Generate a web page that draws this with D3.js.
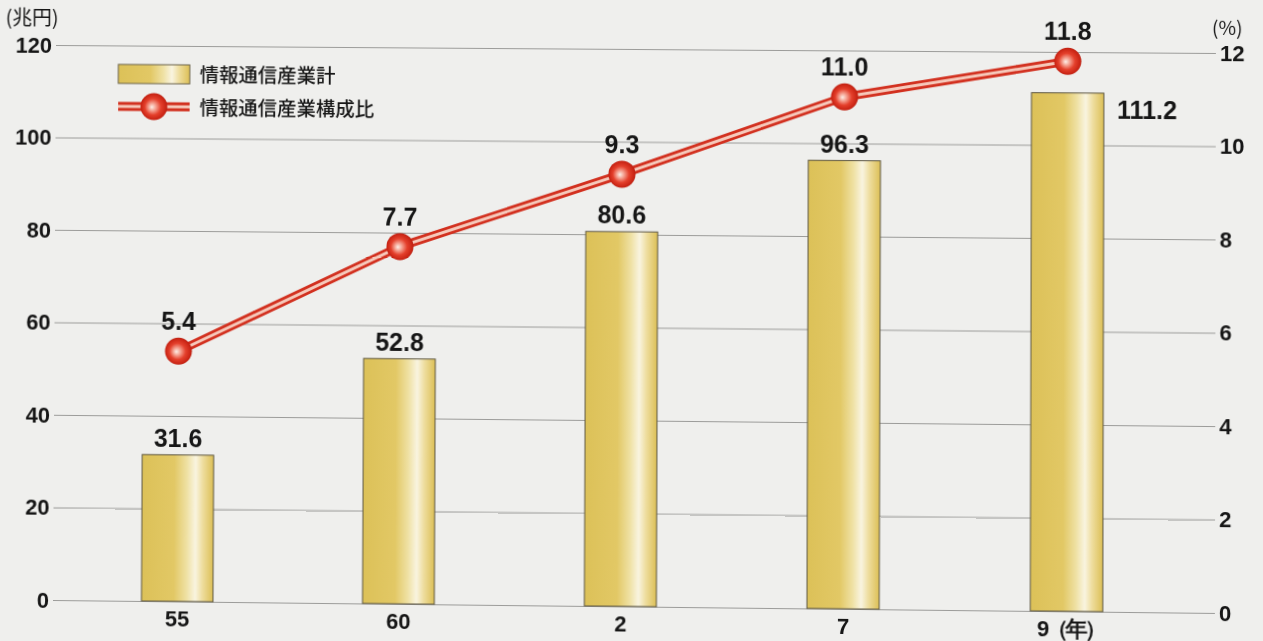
<!DOCTYPE html>
<html lang="ja">
<head>
<meta charset="utf-8">
<script src="https://cdn.jsdelivr.net/npm/d3@7/dist/d3.min.js"></script>
<style>
  html, body { margin: 0; padding: 0; background: #efefed; overflow: hidden; }
  svg { display: block; transform-origin: 0 0; }
  text { font-family: "Liberation Sans", Arial, sans-serif; fill: #161616; }
  .jp { font-family: "Noto Sans CJK JP", "Noto Sans", sans-serif; }
</style>
</head>
<body>
<svg id="chart" width="1263" height="641"></svg>
<script>
// ---- data -------------------------------------------------------------
const categories = ["55", "60", "2", "7", "9（年）"];
const industryTotal = [31.6, 52.8, 80.6, 96.3, 111.2];   // 兆円
const industryShare = [5.4, 7.7, 9.3, 11.0, 11.8];      // %
const leftTicks = [0, 20, 40, 60, 80, 100, 120];
const rightTicks = [0, 2, 4, 6, 8, 10, 12];
const legendLabels = ["情報通信産業計", "情報通信産業構成比"];
const unitLeft = "(兆円)";
const unitRight = "(%)";

// ---- layout -----------------------------------------------------------
const W = 1263, H = 641;
const plot = { left: 55, right: 1215, top: 45, bottom: 600 };

const svg = d3.select("#chart");

// slight keystone of the printed page: map the plot corners onto their
// photographed positions with a projective transform
function homography(src, dst) {
  const A = [], b = [];
  for (let i = 0; i < 4; i++) {
    const [x, y] = src[i], [u, v] = dst[i];
    A.push([x, y, 1, 0, 0, 0, -x * u, -y * u]); b.push(u);
    A.push([0, 0, 0, x, y, 1, -x * v, -y * v]); b.push(v);
  }
  const n = 8;
  for (let c = 0; c < n; c++) {
    let p = c;
    for (let r = c + 1; r < n; r++) if (Math.abs(A[r][c]) > Math.abs(A[p][c])) p = r;
    [A[c], A[p]] = [A[p], A[c]]; [b[c], b[p]] = [b[p], b[c]];
    for (let r = 0; r < n; r++) {
      if (r === c) continue;
      const f = A[r][c] / A[c][c];
      for (let k = c; k < n; k++) A[r][k] -= f * A[c][k];
      b[r] -= f * b[c];
    }
  }
  const h = b.map((v, i) => v / A[i][i]);
  return `matrix3d(${h[0]},${h[3]},0,${h[6]},${h[1]},${h[4]},0,${h[7]},0,0,1,0,${h[2]},${h[5]},0,1)`;
}
svg.style("transform", homography(
  [[plot.left, plot.top], [plot.right, plot.top], [plot.left, plot.bottom], [plot.right, plot.bottom]],
  [[56, 45], [1216, 53], [53, 600], [1215, 613]]
));

svg.append("rect").attr("x", -20).attr("y", -20).attr("width", W + 40).attr("height", H + 40)
  .attr("fill", "#efefed");

// ---- scales -----------------------------------------------------------
const x = d3.scaleBand().domain(categories).range([69, 1179])
  .paddingInner(0.676).paddingOuter(0.338);
const yL = d3.scaleLinear().domain([0, 120]).range([plot.bottom, plot.top]);
const yR = d3.scaleLinear().domain([0, 12]).range([plot.bottom, plot.top]);

// ---- gradients --------------------------------------------------------
const defs = svg.append("defs");
const barGrad = defs.append("linearGradient").attr("id", "barGrad")
  .attr("x1", "0%").attr("x2", "100%").attr("y1", "0%").attr("y2", "0%");
[[0, "#dcc158"], [0.45, "#e2c865"], [0.63, "#efe1a4"], [0.75, "#f9f4e0"], [0.85, "#eedd9e"], [1, "#dcbf55"]]
  .forEach(([o, c]) => barGrad.append("stop").attr("offset", o).attr("stop-color", c));

const dotGrad = defs.append("radialGradient").attr("id", "dotGrad")
  .attr("cx", "50%").attr("cy", "50%").attr("r", "55%").attr("fx", "42%").attr("fy", "52%");
[[0, "#fdeee6"], [0.25, "#f4a090"], [0.55, "#e4402c"], [0.85, "#c92414"], [1, "#a8180c"]]
  .forEach(([o, c]) => dotGrad.append("stop").attr("offset", o).attr("stop-color", c));

// ---- grid + axes ------------------------------------------------------
const tickFont = "Liberation Sans, Arial, sans-serif";
const gLeft = svg.append("g").attr("transform", `translate(${plot.left},0)`)
  .call(d3.axisLeft(yL).tickValues(leftTicks).tickSize(-(plot.right - plot.left)).tickPadding(4));
gLeft.select(".domain").remove();
gLeft.selectAll(".tick line").attr("stroke", "#9c9c9a").attr("stroke-width", 1);
gLeft.selectAll(".tick text").attr("font-size", 22).attr("font-weight", "bold")
  .attr("fill", "#161616").attr("font-family", tickFont);

const gRight = svg.append("g").attr("transform", `translate(${plot.right},0)`)
  .call(d3.axisRight(yR).tickValues(rightTicks).tickSize(0).tickPadding(4));
gRight.select(".domain").remove();
gRight.selectAll(".tick text").attr("font-size", 22).attr("font-weight", "bold")
  .attr("fill", "#161616").attr("font-family", tickFont);

const gBottom = svg.append("g").attr("transform", `translate(0,${plot.bottom})`)
  .call(d3.axisBottom(x).tickSize(0).tickPadding(9));
gBottom.select(".domain").remove();
gBottom.selectAll(".tick text").attr("font-size", 22).attr("font-weight", "bold")
  .attr("fill", "#161616").attr("font-family", "Liberation Sans, 'Noto Sans CJK JP', sans-serif");
// tighten the full-width brackets of the year unit
gBottom.selectAll(".tick text").filter(d => d.includes("（"))
  .attr("letter-spacing", -3).attr("dx", 4);

svg.append("text").attr("class", "jp").attr("x", 4).attr("y", 25)
  .attr("font-size", 20).text(unitLeft);
svg.append("text").attr("class", "jp").attr("x", 1211).attr("y", 27)
  .attr("font-size", 19).text(unitRight);

// ---- bars -------------------------------------------------------------
svg.append("g").selectAll("rect").data(industryTotal).join("rect")
  .attr("x", (d, i) => x(categories[i]))
  .attr("y", d => yL(d))
  .attr("width", x.bandwidth())
  .attr("height", d => yL(0) - yL(d))
  .attr("fill", "url(#barGrad)")
  .attr("stroke", "#5e5844").attr("stroke-width", 1);

const last = industryTotal.length - 1;
svg.append("g").selectAll("text").data(industryTotal).join("text")
  .attr("x", (d, i) => i === last ? x(categories[i]) + x.bandwidth() + 13 : x(categories[i]) + x.bandwidth() / 2)
  .attr("y", (d, i) => i === last ? yL(d) + 25 : yL(d) - 8)
  .attr("text-anchor", (d, i) => i === last ? "start" : "middle")
  .attr("font-size", 25).attr("font-weight", "bold")
  .text(d => d3.format(".1f")(d));

// ---- share line -------------------------------------------------------
const cx = (d, i) => x(categories[i]) + x.bandwidth() / 2;
const line = d3.line().x(cx).y(d => yR(d));
svg.append("path").datum(industryShare).attr("d", line)
  .attr("fill", "none").attr("stroke", "#d2301f").attr("stroke-width", 8.5).attr("stroke-linejoin", "round");
svg.append("path").datum(industryShare).attr("d", line)
  .attr("fill", "none").attr("stroke", "#f6c9bb").attr("stroke-width", 3).attr("stroke-linejoin", "round");

svg.append("g").selectAll("circle").data(industryShare).join("circle")
  .attr("cx", cx).attr("cy", d => yR(d)).attr("r", 13.5)
  .attr("fill", "url(#dotGrad)");

svg.append("g").selectAll("text").data(industryShare).join("text")
  .attr("x", cx).attr("y", d => yR(d) - 21)
  .attr("text-anchor", "middle")
  .attr("font-size", 25).attr("font-weight", "bold")
  .text(d => d3.format(".1f")(d));

// ---- legend -----------------------------------------------------------
const lg = svg.append("g");
lg.append("rect").attr("x", 118).attr("y", 64).attr("width", 72).attr("height", 19)
  .attr("fill", "url(#barGrad)").attr("stroke", "#6a634a").attr("stroke-width", 1);
lg.append("text").attr("class", "jp").attr("x", 200).attr("y", 81)
  .attr("font-size", 19.5).attr("font-weight", 500).text(legendLabels[0]);
lg.append("line").attr("x1", 118).attr("x2", 190).attr("y1", 106).attr("y2", 106)
  .attr("stroke", "#d2301f").attr("stroke-width", 9);
lg.append("line").attr("x1", 118).attr("x2", 190).attr("y1", 106).attr("y2", 106)
  .attr("stroke", "#f6c9bb").attr("stroke-width", 3);
lg.append("circle").attr("cx", 154).attr("cy", 106).attr("r", 13.5).attr("fill", "url(#dotGrad)");
lg.append("text").attr("class", "jp").attr("x", 200).attr("y", 114)
  .attr("font-size", 19.5).attr("font-weight", 500).text(legendLabels[1]);
</script>
</body>
</html>
